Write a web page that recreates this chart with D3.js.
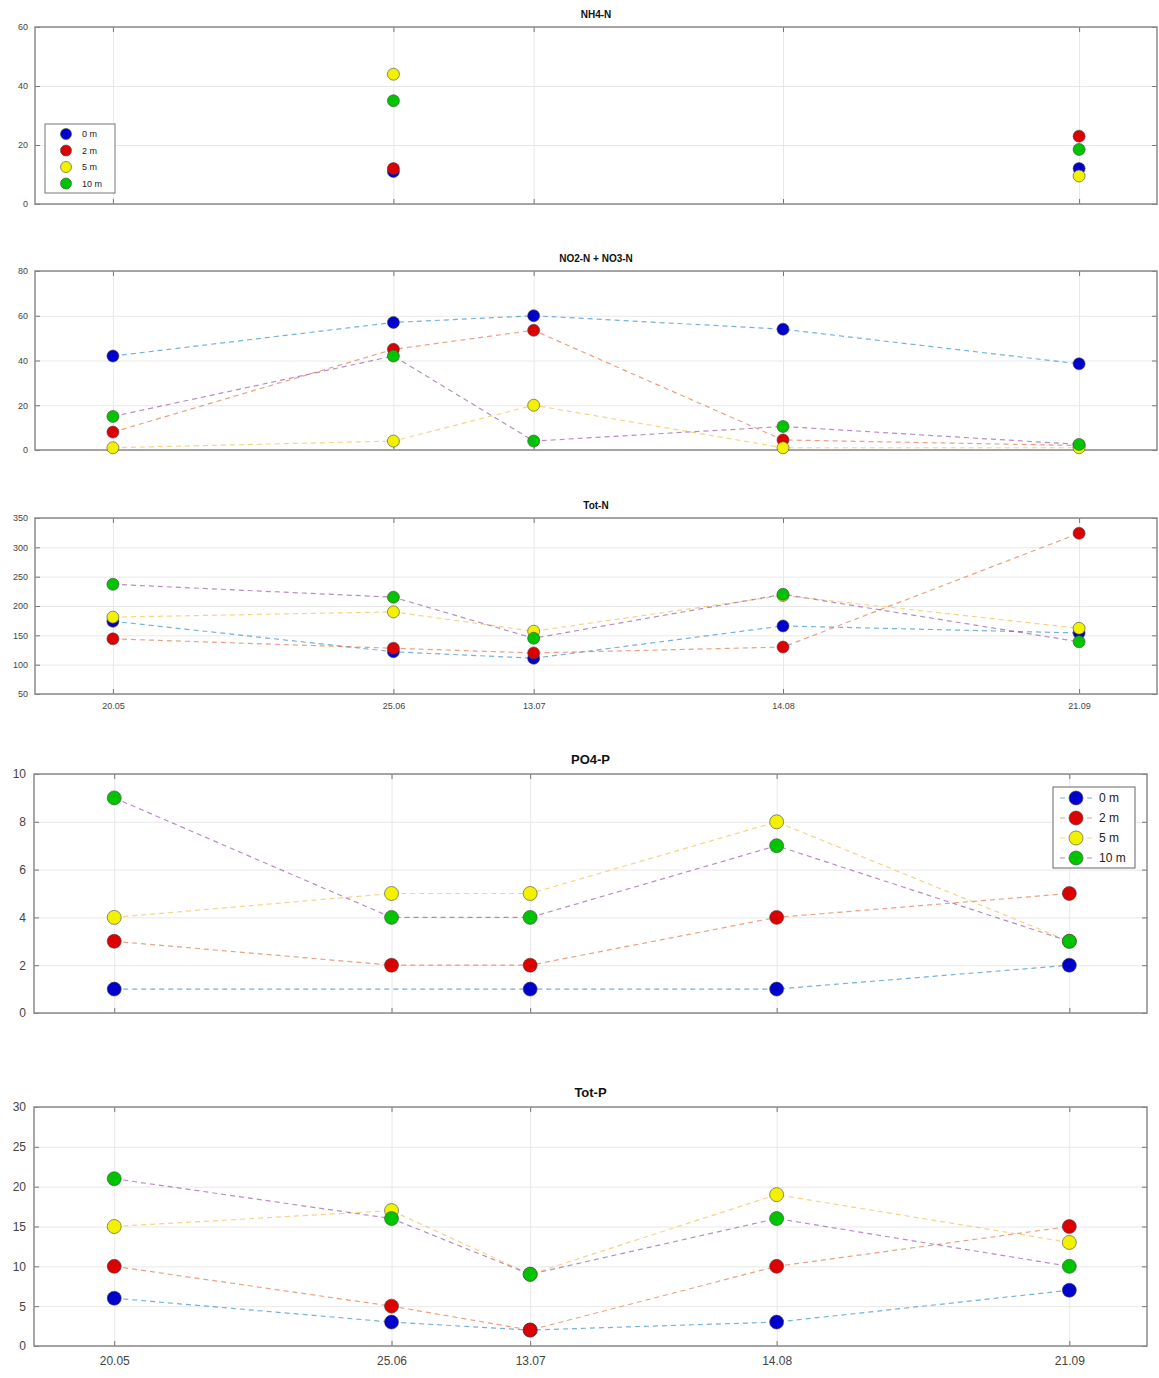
<!DOCTYPE html>
<html>
<head>
<meta charset="utf-8">
<script src="https://cdn.jsdelivr.net/npm/d3@7"></script>
<style>
    body { margin: 0; background: #fff; }
    svg { display: block; font-family: "Liberation Sans", Arial, sans-serif; }
</style>
</head>
<body>
<div id="chart"></div>
<script>
// sampling dates and their labels
const sampleDates = ["2021-05-20", "2021-06-25", "2021-07-13", "2021-08-14", "2021-09-21"];
const dateLabels = ["20.05", "25.06", "13.07", "14.08", "21.09"];
const depths = ["0 m", "2 m", "5 m", "10 m"];

// one row per depth (0, 2, 5, 10 m), one value per date
const nh4N = [
    [null, 11, null, null, 12],
    [null, 12, null, null, 23],
    [null, 44, null, null, 9.5],
    [null, 35, null, null, 18.5],
];
const no23N = [
    [42, 57, 60, 54, 38.5],
    [8, 45, 53.5, 4.5, 2],
    [1, 4, 20, 1, 1],
    [15, 42, 4, 10.5, 2.5],
];
const totN = [
    [174, 122, 111, 166, 154],
    [144, 128, 120, 130, 324],
    [181, 190, 157, 218, 162],
    [237, 215, 145, 220, 139],
];
const po4P = [
    [1, null, 1, 1, 2],
    [3, 2, 2, 4, 5],
    [4, 5, 5, 8, 3],
    [9, 4, 4, 7, 3],
];
const totP = [
    [6, 3, 2, 3, 7],
    [10, 5, 2, 10, 15],
    [15, 17, 9, 19, 13],
    [21, 16, 9, 16, 10],
];

const nh4Ticks = [0, 20, 40, 60];
const no23Ticks = [0, 20, 40, 60, 80];
const totNTicks = [50, 100, 150, 200, 250, 300, 350];
const po4Ticks = [0, 2, 4, 6, 8, 10];
const totPTicks = [0, 5, 10, 15, 20, 25, 30];

const markerColors = ["#0000cc", "#dd0000", "#f2f200", "#00c400"];
const lineColors = ["#0072bd", "#d95319", "#edb120", "#7e2f8e"];

const width = 1159, height = 1378;
const parseDate = d3.timeParse("%Y-%m-%d");
const dates = sampleDates.map(parseDate);

const svg = d3.select("#chart")
    .append("svg")
    .attr("width", width)
    .attr("height", height);

// padX: hours of empty time before the first and after the last date
const panels = [
    { title: "NH4-N", data: nh4N, ticks: nh4Ticks, top: 27, bottom: 204, left: 35, right: 1157,
      padX: [240, 240], small: true, lines: false, xLabels: false, legend: "markers" },
    { title: "NO2-N + NO3-N", data: no23N, ticks: no23Ticks, top: 271, bottom: 450, left: 35, right: 1157,
      padX: [240, 240], small: true, lines: true, xLabels: false },
    { title: "Tot-N", data: totN, ticks: totNTicks, top: 518, bottom: 694, left: 35, right: 1157,
      padX: [240, 240], small: true, lines: true, xLabels: true },
    { title: "PO4-P", data: po4P, ticks: po4Ticks, top: 774, bottom: 1013, left: 34, right: 1147,
      padX: [250, 242], small: false, lines: true, xLabels: false, legend: "full" },
    { title: "Tot-P", data: totP, ticks: totPTicks, top: 1107, bottom: 1346, left: 34, right: 1147,
      padX: [250, 242], small: false, lines: true, xLabels: true },
];

panels.forEach(function(p) {
    const fs = p.small ? 9 : 12;
    const r = p.small ? 6 : 7;
    const w = p.right - p.left, h = p.bottom - p.top;

    const x = d3.scaleTime()
        .domain([d3.timeHour.offset(dates[0], -p.padX[0]),
                 d3.timeHour.offset(dates[dates.length - 1], p.padX[1])])
        .range([0, w]);
    const y = d3.scaleLinear()
        .domain(d3.extent(p.ticks))
        .range([h, 0]);

    const g = svg.append("g")
        .attr("transform", "translate(" + p.left + "," + p.top + ")");

    // grid
    g.append("g")
        .call(d3.axisLeft(y).tickValues(p.ticks).tickSize(-w).tickFormat(""))
        .call(function(a) { a.select(".domain").remove(); })
        .selectAll("line").attr("stroke", "#e8e8e8");
    g.append("g")
        .call(d3.axisBottom(x).tickValues(dates).tickSize(h).tickFormat(""))
        .call(function(a) { a.select(".domain").remove(); })
        .selectAll("line").attr("stroke", "#e8e8e8");

    // y axis with inside ticks, plus mirrored ticks on the right
    const yAxis = g.append("g")
        .call(d3.axisLeft(y).tickValues(p.ticks).tickSize(-5).tickPadding(p.small ? 7 : 8));
    yAxis.select(".domain").remove();
    yAxis.selectAll("line").attr("stroke", "#777");
    yAxis.selectAll("text").attr("fill", "#444").style("font-size", fs + "px");
    g.append("g")
        .attr("transform", "translate(" + w + ",0)")
        .call(d3.axisRight(y).tickValues(p.ticks).tickSize(-5).tickFormat(""))
        .call(function(a) { a.select(".domain").remove(); })
        .selectAll("line").attr("stroke", "#777");

    // x axis ticks (top and bottom), labels only on some panels
    const xAxis = g.append("g")
        .attr("transform", "translate(0," + h + ")")
        .call(d3.axisBottom(x).tickValues(dates).tickSize(-5).tickPadding(p.small ? 9 : 10)
            .tickFormat(function(d, i) { return p.xLabels ? dateLabels[i] : ""; }));
    xAxis.select(".domain").remove();
    xAxis.selectAll("line").attr("stroke", "#777");
    xAxis.selectAll("text").attr("fill", "#444").style("font-size", fs + "px");
    g.append("g")
        .call(d3.axisTop(x).tickValues(dates).tickSize(-5).tickFormat(""))
        .call(function(a) { a.select(".domain").remove(); })
        .selectAll("line").attr("stroke", "#777");

    // box
    g.append("rect")
        .attr("width", w)
        .attr("height", h)
        .attr("fill", "none")
        .attr("stroke", "#8a8a8a")
        .attr("stroke-width", 1.5);

    // title
    svg.append("text")
        .attr("x", p.left + w / 2)
        .attr("y", p.top - (p.small ? 9 : 10))
        .attr("text-anchor", "middle")
        .style("font-size", (p.small ? 10 : 13) + "px")
        .style("font-weight", "bold")
        .attr("fill", "#111")
        .text(p.title);

    const series = p.data.map(function(vals, k) {
        return {
            k: k,
            values: vals.map(function(v, i) { return { date: dates[i], value: v }; })
                .filter(function(d) { return d.value !== null; })
        };
    });

    if (p.lines) {
        const line = d3.line()
            .x(function(d) { return x(d.date); })
            .y(function(d) { return y(d.value); });
        g.selectAll(".series-line")
            .data(series)
            .enter()
            .append("path")
            .attr("d", function(d) { return line(d.values); })
            .attr("fill", "none")
            .attr("stroke", function(d) { return lineColors[d.k]; })
            .attr("stroke-width", 1.2)
            .attr("stroke-opacity", 0.55)
            .attr("stroke-dasharray", "5,4");
    }

    g.selectAll(".series-dots")
        .data(series)
        .enter()
        .append("g")
        .attr("fill", function(d) { return markerColors[d.k]; })
        .selectAll("circle")
        .data(function(d) { return d.values; })
        .enter()
        .append("circle")
        .attr("cx", function(d) { return x(d.date); })
        .attr("cy", function(d) { return y(d.value); })
        .attr("r", r)
        .attr("stroke", "#444")
        .attr("stroke-opacity", 0.6)
        .attr("stroke-width", 1);

    // legends
    if (p.legend === "markers") {
        const lg = svg.append("g").attr("transform", "translate(45,124)");
        lg.append("rect").attr("width", 70).attr("height", 69)
            .attr("fill", "#fff").attr("stroke", "#777");
        depths.forEach(function(name, k) {
            lg.append("circle").attr("cx", 21).attr("cy", 10 + k * 16.5).attr("r", 5.5)
                .attr("fill", markerColors[k]).attr("stroke", "#444").attr("stroke-opacity", 0.6);
            lg.append("text").attr("x", 37).attr("y", 10 + k * 16.5).attr("dy", "0.35em")
                .style("font-size", "9px").attr("fill", "#222").text(name);
        });
    } else if (p.legend === "full") {
        const lg = svg.append("g").attr("transform", "translate(1053,787)");
        lg.append("rect").attr("width", 82).attr("height", 81)
            .attr("fill", "#fff").attr("stroke", "#666");
        depths.forEach(function(name, k) {
            const cy = 11 + k * 20;
            lg.append("line").attr("x1", 7).attr("x2", 39).attr("y1", cy).attr("y2", cy)
                .attr("stroke", lineColors[k]).attr("stroke-opacity", 0.55)
                .attr("stroke-dasharray", "5,4").attr("stroke-width", 1.2);
            lg.append("circle").attr("cx", 23).attr("cy", cy).attr("r", 7)
                .attr("fill", markerColors[k]).attr("stroke", "#444").attr("stroke-opacity", 0.6);
            lg.append("text").attr("x", 46).attr("y", cy).attr("dy", "0.35em")
                .style("font-size", "12px").attr("fill", "#222").text(name);
        });
    }
});
</script>
</body>
</html>
